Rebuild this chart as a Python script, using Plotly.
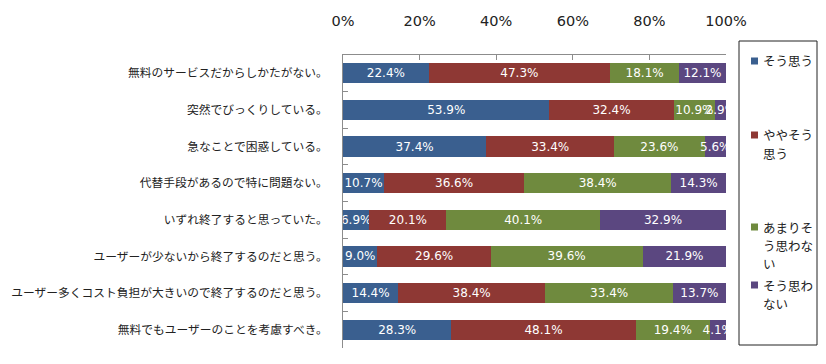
import plotly.graph_objects as go

categories = [
    "無料のサービスだからしかたがない。",
    "突然でびっくりしている。",
    "急なことで困惑している。",
    "代替手段があるので特に問題ない。",
    "いずれ終了すると思っていた。",
    "ユーザーが少ないから終了するのだと思う。",
    "ユーザー多くコスト負担が大きいので終了するのだと思う。",
    "無料でもユーザーのことを考慮すべき。",
]
series_names = ["そう思う", "ややそう思う", "あまりそう思わない", "そう思わない"]
legend_lines = [["そう思う"], ["ややそう", "思う"], ["あまりそ", "う思わな", "い"], ["そう思わ", "ない"]]
s_agree = [22.4, 53.9, 37.4, 10.7, 6.9, 9.0, 14.4, 28.3]
s_somewhat = [47.3, 32.4, 33.4, 36.6, 20.1, 29.6, 38.4, 48.1]
s_not_much = [18.1, 10.9, 23.6, 38.4, 40.1, 39.6, 33.4, 19.4]
s_disagree = [12.1, 2.9, 5.6, 14.3, 32.9, 21.9, 13.7, 4.1]
x_ticks = [0, 20, 40, 60, 80, 100]

colors = ["#3A5F8F", "#8E3834", "#6F8A3E", "#5B4780"]
series = [s_agree, s_somewhat, s_not_much, s_disagree]

fig = go.Figure()
for name, vals, col in zip(series_names, series, colors):
    fig.add_trace(go.Bar(
        y=categories, x=vals, name=name, orientation="h",
        marker=dict(color=col, line=dict(width=0)),
        text=[f"{v:.1f}%" for v in vals],
        textposition="inside", insidetextanchor="middle", textangle=0,
        textfont=dict(color="white", size=12, family="DejaVu Sans"),
        constraintext="none", cliponaxis=True,
        width=0.55, showlegend=False,
    ))

OFF = 8  # page body margin
W, H = 826 - OFF, 364 - OFF
L, R, T, B = 343 - OFF, 100, 55 - OFF, 16
pw, ph = W - L - R, H - T - B

def px(x):
    return (x - OFF - L) / pw

def py(y):
    return (H - B - (y - OFF)) / ph

fig.update_layout(
    barmode="stack",
    width=W, height=H,
    margin=dict(l=L, r=R, t=T, b=B, pad=0, autoexpand=False),
    paper_bgcolor="white", plot_bgcolor="white",
    font=dict(family="Noto Sans CJK JP", color="#222222"),
    uniformtext=dict(mode="show", minsize=12),
    xaxis=dict(
        side="top", range=[0, 100], tickvals=x_ticks,
        ticktext=[f"{v}%" for v in x_ticks],
        showgrid=False, zeroline=False, showline=True, linecolor="#8C8C8C", linewidth=1,
        ticks="inside", ticklen=5, tickcolor="#8C8C8C",
        tickfont=dict(family="DejaVu Sans", size=14.5, color="#222222"),
        ticklabelstandoff=22,
    ),
    yaxis=dict(
        autorange="reversed", showgrid=False, zeroline=False,
        showline=True, linecolor="#8C8C8C", linewidth=1,
        ticks="inside", ticklen=5, tickcolor="#8C8C8C", tickson="boundaries",
        tickfont=dict(family="Noto Sans CJK JP", size=11.75, color="#222222"),
        ticklabelstandoff=12,
    ),
)

# legend box drawn manually
fig.add_shape(type="rect", xref="paper", yref="paper",
              x0=px(739), x1=px(817), y0=py(345), y1=py(41),
              line=dict(color="#222222", width=1), fillcolor="white")
item_tops = [61, 135, 227, 285]
line_h = 18
for lines, col, ytop in zip(legend_lines, colors, item_tops):
    fig.add_shape(type="rect", xref="paper", yref="paper",
                  x0=px(751), x1=px(758), y0=py(ytop + 3.5), y1=py(ytop - 3.5),
                  line=dict(width=0), fillcolor=col)
    for i, t in enumerate(lines):
        fig.add_annotation(xref="paper", yref="paper", x=px(761), y=py(ytop + i * line_h),
                           text=t, showarrow=False, xanchor="left", yanchor="middle",
                           font=dict(family="Noto Sans CJK JP", size=12.5, color="#222222"))

fig.write_html("out.html")
